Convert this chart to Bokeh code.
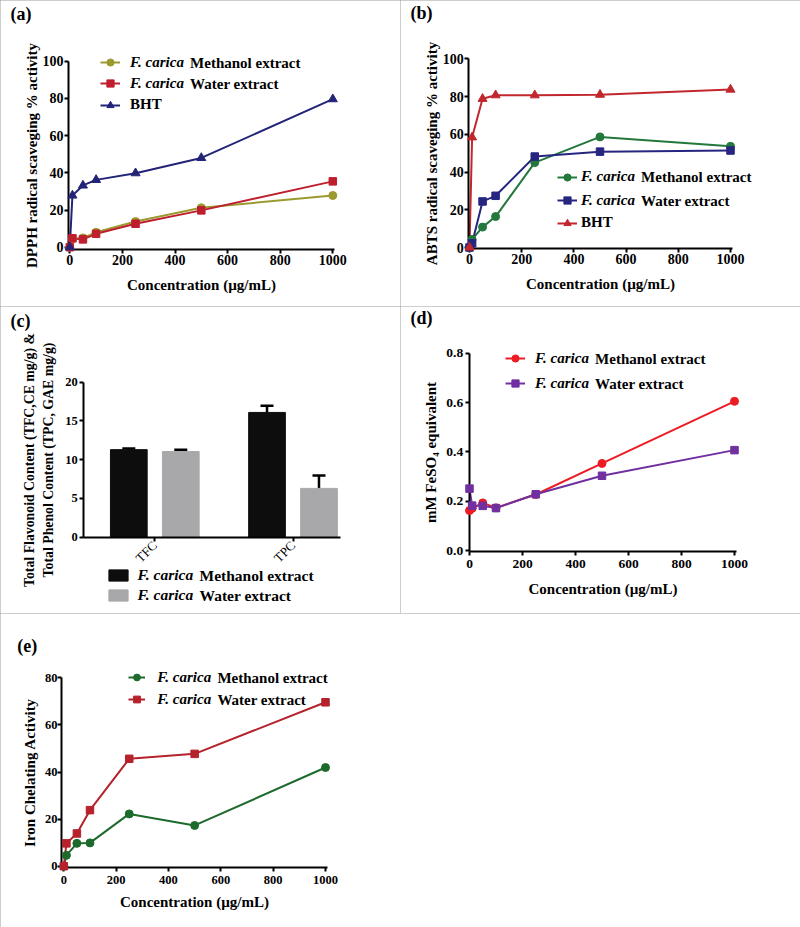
import numpy as np
from bokeh.plotting import figure
from bokeh.models import (Range1d, Legend, LegendItem, Label, SingleIntervalTicker,
                          FixedTicker, NumeralTickFormatter, Whisker, ColumnDataSource, TeeHead)
from bokeh.layouts import column, row
from bokeh.embed import file_html
from bokeh.resources import INLINE
from bokeh.core.properties import value
from bokeh.transform import dodge

# ---------------- data ----------------
conc = [0, 10, 50, 100, 250, 500, 1000]
x_ticks = [0, 200, 400, 600, 800, 1000]

dpph_methanol = [0, 4.4, 5.0, 8.0, 13.8, 21.2, 27.8]
dpph_water = [0, 4.8, 4.2, 7.2, 12.6, 19.8, 35.4]
dpph_bht = [0, 27.8, 33.2, 36.2, 39.8, 48.0, 79.6]

abts_methanol = [0, 4.3, 10.8, 16.4, 45.0, 58.6, 53.6]
abts_water = [0, 2.2, 24.4, 27.4, 48.2, 50.8, 51.4]
abts_bht = [0, 58.4, 78.8, 80.7, 80.7, 81.0, 83.7]

content_groups = ["TFC", "TPC"]
content_methanol = [11.3, 16.1]
content_methanol_err = [0.15, 0.85]
content_water = [11.05, 6.3]
content_water_err = [0.25, 1.65]

frap_methanol = [0.162, 0.171, 0.193, 0.173, 0.227, 0.353, 0.605]
frap_water = [0.251, 0.182, 0.181, 0.172, 0.228, 0.303, 0.407]

chel_methanol = [0, 4.6, 9.7, 9.9, 22.2, 17.3, 41.9]
chel_water = [0, 9.7, 13.9, 23.8, 45.6, 47.7, 69.6]

X_TITLE = "Concentration (\u00b5g/mL)"
MET = ("F. carica", "Methanol extract")
WAT = ("F. carica", "Water extract")

# ---------------- style helpers ----------------
FONT = "Liberation Serif"
BORDER = {"outline": "1px solid #9a9a9a", "outline-offset": "-1px"}


def fs(v):
    return f"{v:.1f}px"


def xr_from(px0, k, W):
    return (-px0 / k, (W - px0) / k)


def yr_from(py0, k, H):
    return ((py0 - H) / k, py0 / k)


def make_fig(W, H, xmap, ymap, xaxis_at, yaxis_at, xb, yb):
    p = figure(width=W, height=H, min_border=0, min_border_left=0, min_border_right=0,
               min_border_top=0, min_border_bottom=0,
               x_range=Range1d(*xr_from(xmap[0], xmap[1], W)),
               y_range=Range1d(*yr_from(ymap[0], ymap[1], H)),
               output_backend="svg", toolbar_location=None, styles=BORDER)
    p.xgrid.visible = False
    p.ygrid.visible = False
    p.outline_line_color = None
    p.background_fill_color = "white"
    p.border_fill_color = "white"
    p.xaxis.fixed_location = xaxis_at
    p.yaxis.fixed_location = yaxis_at
    p.xaxis.bounds = xb
    p.yaxis.bounds = yb
    for ax in p.axis:
        ax.axis_line_width = 2
        ax.axis_line_color = "black"
        ax.major_tick_line_width = 2
        ax.major_tick_line_color = "black"
        ax.major_tick_in = 0
        ax.major_tick_out = 4
        ax.minor_tick_line_color = None
        ax.major_label_text_font = FONT
        ax.major_label_text_font_style = "bold"
        ax.major_label_text_color = "black"
        ax.axis_label_text_font = FONT
        ax.axis_label_text_font_style = "bold"
        ax.axis_label_text_font_size = fs(15)
        ax.axis_label_text_color = "black"
    return p


def set_axes(p, xlabel, ylabel, tick_font, xs, xts, ys, yts):
    p.xaxis.axis_label = xlabel
    p.yaxis.axis_label = ylabel
    p.xaxis.major_label_text_font_size = fs(tick_font)
    p.yaxis.major_label_text_font_size = fs(tick_font)
    p.xaxis.major_label_standoff = xs
    p.xaxis.axis_label_standoff = xts
    p.yaxis.major_label_standoff = ys
    p.yaxis.axis_label_standoff = yts


def panel_label(p, H, text, x, top):
    p.add_layout(Label(x=x, y=H - top, x_units="screen", y_units="screen",
                       text=text, text_font=FONT, text_font_style="bold", text_font_size=fs(18),
                       text_baseline="top", text_align="left", text_color="black"))


def legend_rows(p, H, entries, glyph_x, glyph_w, standoff, rows, font, glyph_h=18, item_h=18):
    for (ital, rest, rs), cy in zip(entries, rows):
        style = "bold italic" if rest else "bold"
        lg = Legend(items=[LegendItem(label=value(ital), renderers=rs)],
                    location=(glyph_x, H - cy - item_h / 2), padding=0, margin=0, spacing=0,
                    glyph_width=glyph_w, glyph_height=glyph_h, label_height=item_h,
                    label_standoff=standoff, border_line_color=None, background_fill_alpha=0,
                    label_text_font=FONT, label_text_font_style=style,
                    label_text_font_size=fs(font), label_text_color="black")
        p.add_layout(lg)
        if rest:
            rx = glyph_x + glyph_w + standoff + 3.972 * font
            p.add_layout(Label(x=rx, y=H - cy, x_units="screen", y_units="screen", text=rest,
                               text_font=FONT, text_font_style="bold", text_font_size=fs(font),
                               text_baseline="middle", text_align="left", text_color="black"))


def series(p, y, color, marker, size):
    r1 = p.line(conc, y, line_color=color, line_width=2)
    r2 = p.scatter(conc, y, marker=marker, size=size, fill_color=color, line_color=color,
                   level="overlay")
    return [r1, r2]


def conc_axes(p, yint):
    p.xaxis.ticker = FixedTicker(ticks=x_ticks)
    p.yaxis.ticker = SingleIntervalTicker(interval=yint, num_minor_ticks=0)


# ---------------- panel (a) ----------------
Ha = 306
pa = make_fig(400, Ha, (69.3, 0.263), (246.7, 1.86), -1.24, -4.94, (-4.94, 1006), (-1.24, 100))
conc_axes(pa, 20)
set_axes(pa, X_TITLE, "DPPH radical scaveging % activity", 14, 1, 9, 1, 0)
ra1 = series(pa, dpph_methanol, "#9c9a2e", "circle", 8)
ra2 = series(pa, dpph_water, "#be1e2d", "square", 7.5)
ra3 = series(pa, dpph_bht, "#232378", "triangle", 9)
legend_rows(pa, Ha, [(MET[0], MET[1], ra1), (WAT[0], WAT[1], ra2), ("BHT", "", ra3)],
            100, 20, 10, [62, 83.3, 104.7], 15)
panel_label(pa, Ha, "(a)", 10, 3)

# ---------------- panel (b) ----------------
Hb = 306
pb = make_fig(400, Hb, (69, 0.261), (247, 1.887), -0.69, -2.7, (-2.7, 1006), (-0.69, 100))
conc_axes(pb, 20)
set_axes(pb, X_TITLE, "ABTS radical scaveging % activity", 14, 1, 9, 1, 0)
rb1 = series(pb, abts_methanol, "#23783c", "circle", 8)
rb2 = series(pb, abts_water, "#262680", "square", 7.5)
rb3 = series(pb, abts_bht, "#c1272d", "triangle", 9)
legend_rows(pb, Hb, [(MET[0], MET[1], rb1), (WAT[0], WAT[1], rb2), ("BHT", "", rb3)],
            157, 20, 4, [176.7, 200, 222.7], 15)
panel_label(pb, Hb, "(b)", 10, 2)

# ---------------- panel (c) ----------------
Hc = 307
pc = make_fig(400, Hc, (85.2, 138.2), (230.7, 7.75), 0, -0.014, (-0.014, 1.844), (0, 20))
idx = [i + 0.5 for i in range(len(content_groups))]
src = ColumnDataSource(dict(
    x=idx, m=content_methanol, w=content_water,
    mt=[a + b for a, b in zip(content_methanol, content_methanol_err)],
    wt=[a + b for a, b in zip(content_water, content_water_err)]))
bw = 0.2656
off = 0.188
rc1 = pc.vbar(x=dodge("x", -off, range=pc.x_range), top="m", width=bw, source=src,
              fill_color="#0d0d0d", line_color="#0d0d0d")
rc2 = pc.vbar(x=dodge("x", off, range=pc.x_range), top="w", width=bw, source=src,
              fill_color="#a8a8aa", line_color="#a8a8aa")
for base, lo, hi in ((-off, "m", "mt"), (off, "w", "wt")):
    pc.add_layout(Whisker(base=dodge("x", base, range=pc.x_range), lower=lo, upper=hi, source=src,
                          line_color="black", line_width=2.5, lower_head=None,
                          upper_head=TeeHead(size=13, line_width=2.5, line_color="black")))
pc.xaxis.ticker = FixedTicker(ticks=idx)
pc.xaxis.major_label_overrides = {v: g for v, g in zip(idx, content_groups)}
pc.xaxis.major_label_orientation = np.pi / 4
pc.yaxis.ticker = SingleIntervalTicker(interval=5, num_minor_ticks=0)
set_axes(pc, "", "Total Flavonoid Content (TFC,CE mg/g) &\nTotal Phenol Content (TPC, GAE mg/g)",
         12.5, 2, 0, 2, 6)
pc.xaxis.major_label_text_font_style = "normal"
pc.xaxis.major_label_text_font_size = fs(13)
pc.yaxis.axis_label_text_font_size = fs(13.8)
pc.yaxis.axis_label_text_line_height = 1.3
legend_rows(pc, Hc, [(MET[0], MET[1], [rc1]), (WAT[0], WAT[1], [rc2])],
            105.5, 24, 8, [269, 289], 15.5, glyph_h=14, item_h=18)
panel_label(pc, Hc, "(c)", 10, 4.5)

# ---------------- panel (d) ----------------
Hd = 307
pd_ = make_fig(400, Hd, (69, 0.265), (244, 246.6), -0.003, -1, (-1, 1006), (-0.003, 0.8))
conc_axes(pd_, 0.2)
pd_.yaxis.formatter = NumeralTickFormatter(format="0.0")
set_axes(pd_, X_TITLE, "mM FeSO\u2084 equivalent", 13.5, 5, 9, 2, 5)
rd1 = series(pd_, frap_methanol, "#ed1c24", "circle", 8)
rd2 = series(pd_, frap_water, "#7030a0", "square", 7.5)
legend_rows(pd_, Hd, [(MET[0], MET[1], rd1), (WAT[0], WAT[1], rd2)],
            105, 20, 10, [52.3, 77.3], 15)
panel_label(pd_, Hd, "(d)", 10, 1.5)

# ---------------- panel (e) ----------------
He = 314
pe = make_fig(800, He, (63.3, 0.2617), (252.7, 2.355), -0.42, -8.8, (-8.8, 1006), (-0.42, 80))
conc_axes(pe, 20)
set_axes(pe, X_TITLE, "Iron Chelating Activity", 12.5, 5, 6, 0, 4)
re1 = series(pe, chel_methanol, "#1d6b2c", "circle", 8)
re2 = series(pe, chel_water, "#b5222b", "square", 7.5)
legend_rows(pe, He, [(MET[0], MET[1], re1), (WAT[0], WAT[1], re2)],
            128.3, 17, 12, [64.3, 86.3], 15)
panel_label(pe, He, "(e)", 16.7, 22.5)

layout = column(row(pa, pb), row(pc, pd_), pe)
open("out.html", "w").write(file_html(layout, INLINE))
